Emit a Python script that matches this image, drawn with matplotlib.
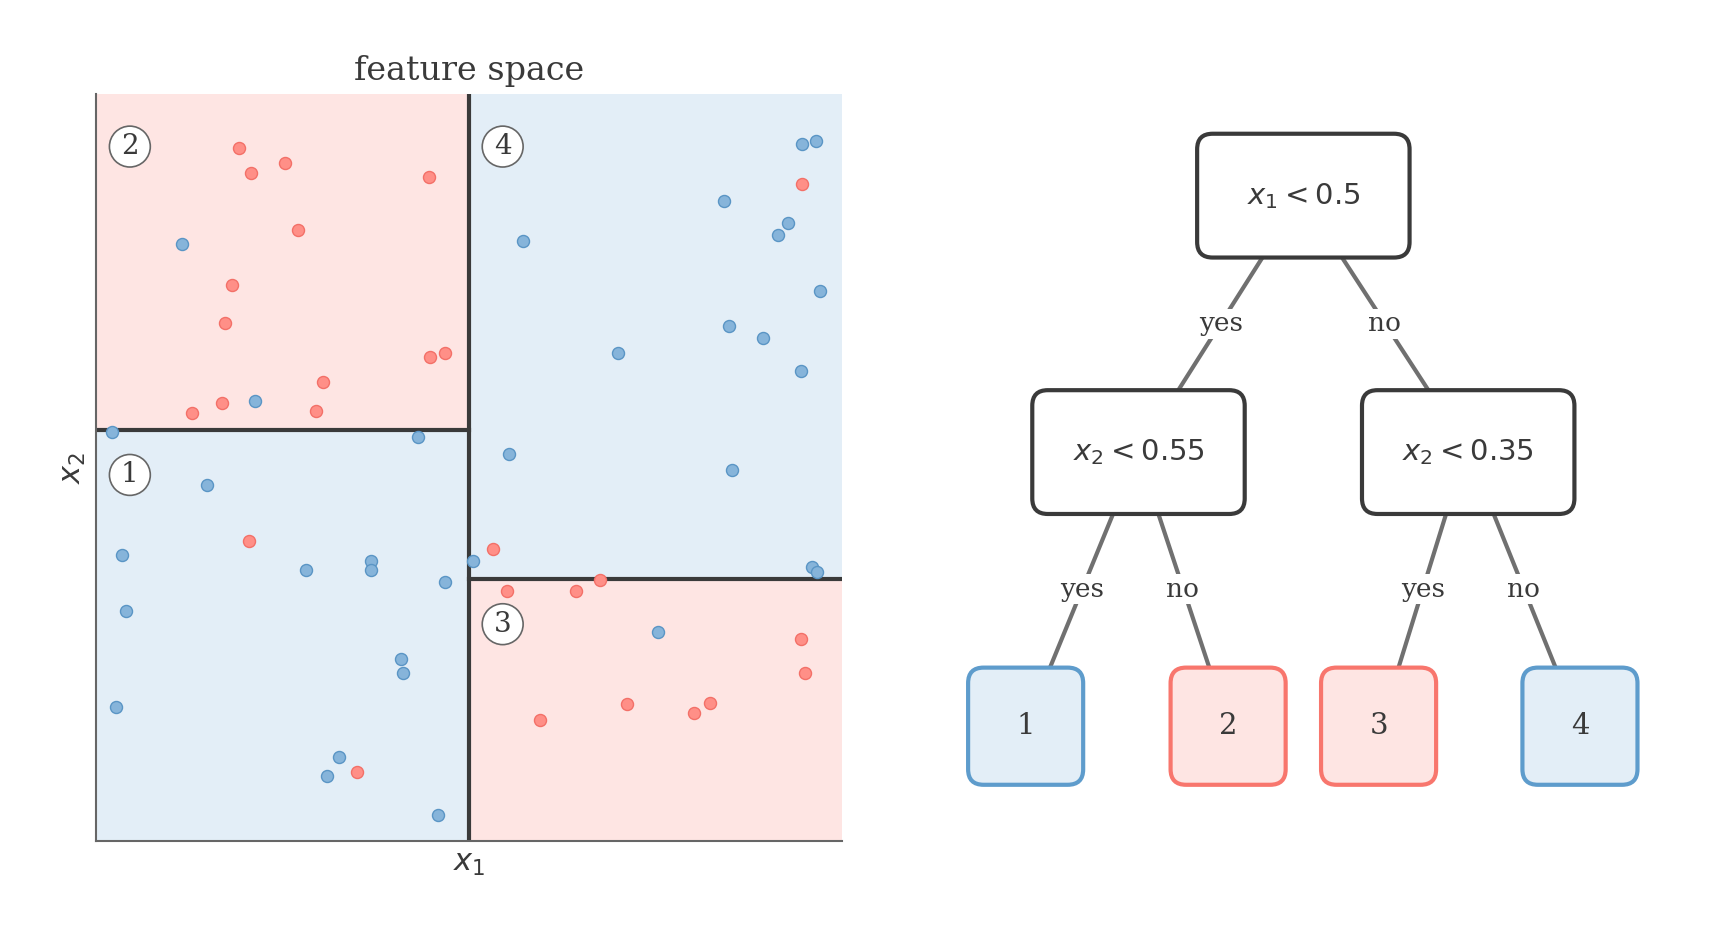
import matplotlib
matplotlib.use("Agg")
import matplotlib.pyplot as plt
from matplotlib.patches import FancyBboxPatch

blue_x = [0.115,0.213,0.021,0.431,0.149,0.035,0.040,0.281,0.369,0.369,0.468,0.409,0.411,0.027,0.325,0.310,0.458,
          0.572,0.699,0.554,0.505,0.852,0.842,0.947,0.965,0.928,0.914,0.970,0.849,0.894,0.945,0.960,0.966,0.753]
blue_y = [0.799,0.589,0.548,0.541,0.477,0.383,0.307,0.363,0.375,0.363,0.346,0.244,0.225,0.179,0.112,0.086,0.034,
          0.804,0.653,0.518,0.375,0.496,0.857,0.934,0.938,0.827,0.812,0.737,0.690,0.674,0.629,0.366,0.360,0.279]
red_x = [0.191,0.208,0.253,0.446,0.270,0.182,0.173,0.448,0.467,0.304,0.168,0.129,0.294,0.205,0.532,0.551,0.643,
         0.675,0.947,0.945,0.951,0.712,0.823,0.801,0.595,0.349]
red_y = [0.928,0.894,0.908,0.889,0.818,0.744,0.694,0.648,0.653,0.614,0.586,0.573,0.576,0.402,0.391,0.334,0.335,
         0.349,0.880,0.270,0.225,0.183,0.185,0.171,0.161,0.092]
split_x1 = 0.5
split_left = 0.55
split_right = 0.35
region_labels = ["1", "2", "3", "4"]
node_labels = [r"$x_1 < 0.5$", r"$x_2 < 0.55$", r"$x_2 < 0.35$"]
leaf_labels = ["1", "2", "3", "4"]

RED_F, BLUE_F = "#fee5e3", "#e3eef7"
RED_E, BLUE_E = "#f8766d", "#5e9ccc"
DARK = "#3a3a3a"

fig = plt.figure(figsize=(17.26, 9.34), dpi=100)
ax = fig.add_axes([0.0558, 0.1, 0.432, 0.799])
ax.set_xlim(0, 1); ax.set_ylim(0, 1)
ax.axvspan(0, split_x1, ymin=0, ymax=split_left, color=BLUE_F, lw=0)
ax.axvspan(0, split_x1, ymin=split_left, ymax=1, color=RED_F, lw=0)
ax.axvspan(split_x1, 1, ymin=0, ymax=split_right, color=RED_F, lw=0)
ax.axvspan(split_x1, 1, ymin=split_right, ymax=1, color=BLUE_F, lw=0)
ax.plot([split_x1, split_x1], [0, 1], color=DARK, lw=3)
ax.plot([0, split_x1], [split_left, split_left], color=DARK, lw=3)
ax.plot([split_x1, 1], [split_right, split_right], color=DARK, lw=3)
ax.scatter(blue_x, blue_y, s=75, color="#86b4da", edgecolor="#5a95c5", lw=1, zorder=3)
ax.scatter(red_x, red_y, s=75, color="#ff8f87", edgecolor="#f37068", lw=1, zorder=3)
for (x, y), t in zip([(0.045, 0.49), (0.045, 0.93), (0.545, 0.29), (0.545, 0.93)], region_labels):
    ax.text(x, y, t, ha="center", va="center", family="DejaVu Serif", fontsize=20, color=DARK,
            bbox=dict(boxstyle="circle,pad=0.25", fc="white", ec="#666666", lw=1.2), zorder=4)
for s in ["top", "right"]:
    ax.spines[s].set_visible(False)
for s in ["left", "bottom"]:
    ax.spines[s].set_color("#666666"); ax.spines[s].set_linewidth(1.5)
ax.set_xticks([]); ax.set_yticks([])
ax.set_xlabel(r"$x_1$", fontsize=22, color=DARK, labelpad=6)
ax.set_ylabel(r"$x_2$", fontsize=22, color=DARK, labelpad=6)
ax.set_title("feature space", family="DejaVu Serif", fontsize=24, color=DARK, pad=10)

t = fig.add_axes([0.55, 0, 0.45, 1])
t.set_xlim(864, 1566); t.set_ylim(845, 0); t.axis("off")

def box(cx, cy, w, h, ec, fc, text, fs, fam):
    t.add_patch(FancyBboxPatch((cx - w/2, cy - h/2), w, h, boxstyle="round,pad=0,rounding_size=14",
                               ec=ec, fc=fc, lw=3, zorder=3))
    t.text(cx, cy, text, ha="center", va="center", fontsize=fs, color=DARK, family=fam, zorder=4)

def edge(x0, y0, x1, y1, lab, lx, ly):
    t.plot([x0, x1], [y0, y1], color="#707070", lw=3, zorder=1)
    t.text(lx, ly, lab, ha="center", va="center", family="DejaVu Serif", fontsize=19, color=DARK,
           bbox=dict(boxstyle="square,pad=0.1", fc="white", ec="none"), zorder=2)

edge(1147, 233, 1071, 353, "yes", 1110, 293)
edge(1219, 233, 1297, 353, "no", 1257, 293)
edge(1012, 465, 955, 604, "yes", 984, 533)
edge(1053, 465, 1099, 604, "no", 1075, 533)
edge(1313, 465, 1270, 604, "yes", 1292, 533)
edge(1356, 465, 1412, 604, "no", 1383, 533)

box(1184, 177, 192, 112, DARK, "white", node_labels[0], 21, "DejaVu Sans")
box(1035, 409, 192, 112, DARK, "white", node_labels[1], 21, "DejaVu Sans")
box(1333, 409, 192, 112, DARK, "white", node_labels[2], 21, "DejaVu Sans")
for cx, lab, ec, fc in zip([933, 1116, 1252, 1434], leaf_labels,
                           [BLUE_E, RED_E, RED_E, BLUE_E], [BLUE_F, RED_F, RED_F, BLUE_F]):
    box(cx, 657, 104, 106, ec, fc, lab, 21, "DejaVu Serif")

fig.savefig("out.png", dpi=100)
